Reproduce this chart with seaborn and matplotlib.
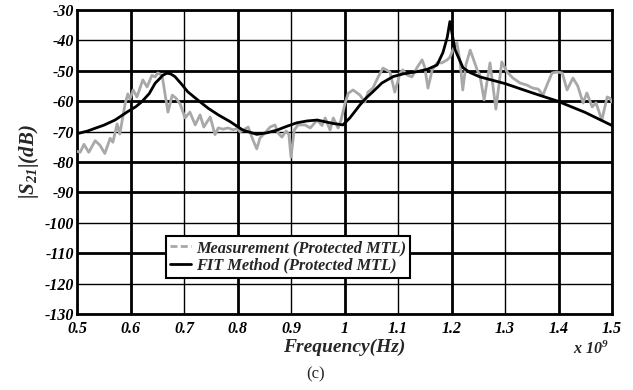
import matplotlib
matplotlib.use("Agg")
import matplotlib.pyplot as plt
import seaborn as sns
import pandas as pd
from matplotlib.lines import Line2D
from matplotlib.font_manager import FontProperties

# ---- data (frequency in GHz, |S21| in dB) ----
meas_freq = [0.500, 0.506, 0.513, 0.522, 0.534, 0.543, 0.552, 0.562, 0.567, 0.575,
             0.580, 0.590, 0.595, 0.599, 0.605, 0.612, 0.623, 0.631, 0.640, 0.646,
             0.651, 0.659, 0.664, 0.670, 0.678, 0.685, 0.693, 0.702, 0.711, 0.721,
             0.730, 0.737, 0.749, 0.758, 0.764, 0.773, 0.782, 0.792, 0.799, 0.805,
             0.820, 0.829, 0.836, 0.842, 0.851, 0.861, 0.870, 0.876, 0.883, 0.891,
             0.896, 0.900, 0.906, 0.913, 0.926, 0.936, 0.949, 0.958, 0.964, 0.973,
             0.979, 0.988, 0.993, 1.001, 1.007, 1.016, 1.029, 1.038, 1.044, 1.053,
             1.063, 1.072, 1.085, 1.094, 1.104, 1.109, 1.117, 1.126, 1.136, 1.145,
             1.150, 1.156, 1.164, 1.173, 1.182, 1.192, 1.197, 1.203, 1.210, 1.216,
             1.221, 1.227, 1.235, 1.248, 1.253, 1.261, 1.272, 1.283, 1.294, 1.304,
             1.315, 1.328, 1.341, 1.352, 1.362, 1.371, 1.380, 1.388, 1.397, 1.407,
             1.416, 1.427, 1.436, 1.446, 1.453, 1.463, 1.470, 1.481, 1.491, 1.496,
             1.500]
meas_db = [-76.5, -76.8, -74.2, -76.8, -73.0, -74.5, -77.2, -72.2, -73.5, -67.5,
           -70.8, -60.8, -57.6, -59.3, -56.3, -58.6, -53.0, -55.3, -51.5, -52.0,
           -50.7, -51.5, -57.0, -63.6, -58.0, -59.0, -61.0, -65.5, -63.6, -67.8,
           -64.5, -68.5, -65.2, -71.0, -68.8, -69.2, -68.8, -69.4, -69.0, -70.1,
           -68.5, -72.8, -75.7, -72.1, -70.5, -68.5, -67.8, -70.5, -71.8, -69.8,
           -71.0, -78.4, -69.5, -67.8, -67.8, -68.8, -66.2, -68.0, -65.5, -69.5,
           -65.5, -68.8, -66.5, -60.7, -57.4, -56.3, -58.0, -60.3, -57.0, -55.7,
           -52.0, -49.1, -50.4, -57.0, -50.7, -49.7, -51.4, -52.0, -48.8, -46.4,
           -48.8, -55.7, -49.7, -47.4, -47.4, -46.4, -45.5, -43.0, -40.7, -47.0,
           -56.3, -48.0, -43.2, -49.7, -51.4, -59.6, -47.4, -62.6, -47.1, -50.4,
           -52.4, -54.0, -54.7, -55.7, -56.0, -58.0, -54.0, -50.7, -50.4, -50.7,
           -56.3, -52.4, -55.0, -60.6, -57.3, -61.9, -60.5, -66.2, -58.6, -59.0,
           -60.3]

fit_freq = [0.500, 0.520, 0.534, 0.550, 0.571, 0.595, 0.610, 0.621, 0.635, 0.646,
            0.655, 0.660, 0.668, 0.675, 0.683, 0.695, 0.707, 0.725, 0.745, 0.765,
            0.786, 0.810, 0.836, 0.855, 0.874, 0.890, 0.911, 0.930, 0.949, 0.978,
            0.997, 1.010, 1.029, 1.040, 1.053, 1.070, 1.091, 1.110, 1.135, 1.155,
            1.173, 1.184, 1.192, 1.197, 1.2065, 1.2215, 1.235, 1.253, 1.300, 1.350,
            1.397, 1.450, 1.500]
fit_db = [-70.7, -69.8, -68.9, -67.9, -66.2, -63.4, -61.8, -60.2, -57.5, -54.1,
          -52.5, -51.5, -50.8, -51.0, -51.9, -54.3, -56.9, -59.5, -62.3, -64.6,
          -66.7, -69.5, -70.9, -70.4, -69.5, -68.4, -67.1, -66.5, -66.2, -67.3,
          -67.8, -65.5, -61.2, -59.0, -56.9, -54.0, -51.9, -51.0, -50.3, -49.5,
          -48.1, -44.0, -39.0, -33.8, -43.0, -49.0, -50.6, -52.0, -54.2, -57.2,
          -59.9, -63.7, -68.0]

x_ticks = [0.5, 0.6, 0.7, 0.8, 0.9, 1.0, 1.1, 1.2, 1.3, 1.4, 1.5]
x_tick_labels = ["0.5", "0.6", "0.7", "0.8", "0.9", "1", "1.1", "1.2", "1.3", "1.4", "1.5"]
y_ticks = [-130, -120, -110, -100, -90, -80, -70, -60, -50, -40, -30]

labels = ["Measurement (Protected MTL)", "FIT Method (Protected MTL)"]

# ---- style ----
sns.set_style("white")
plt.rcParams["font.family"] = ["Liberation Serif", "DejaVu Serif"]
plt.rcParams["axes.unicode_minus"] = False
plt.rcParams["mathtext.fontset"] = "custom"
plt.rcParams["mathtext.rm"] = "Liberation Serif:bold:italic"
plt.rcParams["mathtext.it"] = "Liberation Serif:bold:italic"
plt.rcParams["mathtext.bf"] = "Liberation Serif:bold:italic"

fig = plt.figure(figsize=(6.33, 3.90), dpi=100)
ax = fig.add_axes([77 / 633, 1 - 314 / 390, 535 / 633, 304 / 390])

meas_df = pd.DataFrame({"f": meas_freq, "db": meas_db})
fit_df = pd.DataFrame({"f": fit_freq, "db": fit_db})

sns.lineplot(data=meas_df, x="f", y="db", ax=ax, color="#a8a8a8", lw=2.0,
             estimator=None, sort=False, zorder=3)
sns.lineplot(data=fit_df, x="f", y="db", ax=ax, color="black", lw=2.0,
             estimator=None, sort=False, zorder=4)

ax.set_xlim(0.5, 1.5)
ax.set_ylim(-130, -30)
ax.set_xticks(x_ticks)
ax.set_xticklabels(x_tick_labels)
ax.set_yticks(y_ticks)

tick_fp = FontProperties(family="Liberation Serif", weight="bold", style="italic", size=11.5)
for lab in ax.get_xticklabels() + ax.get_yticklabels():
    lab.set_fontproperties(tick_fp)
ax.tick_params(axis="both", direction="in", length=3, width=1, pad=2, colors="black")
ax.tick_params(axis="x", pad=5)

ax.grid(True, color="black", lw=1.0)
ax.set_axisbelow(True)
thick_x = [0.6, 0.8, 1.0, 1.2, 1.4]
for val, gl in zip(x_ticks, ax.get_xgridlines()):
    gl.set_linewidth(2.0 if any(abs(val - t) < 1e-9 for t in thick_x) else 1.0)
thick_y = [-50, -60, -80, -90, -110]
for val, gl in zip(y_ticks, ax.get_ygridlines()):
    gl.set_linewidth(2.0 if val in thick_y else 1.0)

for sp in ax.spines.values():
    sp.set_visible(True)
    sp.set_color("black")
    sp.set_linewidth(2.0)

ax.set_xlabel("Frequency(Hz)", fontsize=14, fontweight="bold", style="italic", labelpad=1)
ax.set_ylabel(r"$|S_{21}|$(dB)", fontsize=15, fontweight="bold", style="italic", labelpad=3)

handles = [Line2D([], [], color="#a8a8a8", lw=2.0, ls=(0, (2.5, 1.2))),
           Line2D([], [], color="black", lw=2.0)]
leg = ax.legend(handles, labels, loc="upper left", bbox_to_anchor=(0.166, 0.257),
                frameon=True, fancybox=False, edgecolor="black", framealpha=1,
                handlelength=1.3, handletextpad=0.3, borderpad=0.25, labelspacing=0.1,
                borderaxespad=0,
                prop=FontProperties(family="Liberation Serif", weight="bold",
                                    style="italic", size=11.8))
leg.get_frame().set_linewidth(1.5)

fig.text(591 / 633, 1 - 349 / 390, r"x 10$^9$", ha="center", va="center",
         fontsize=11.5, fontweight="bold", style="italic")
fig.text(316 / 633, 1 - 374 / 390, "(c)", ha="center", va="center", fontsize=12)

fig.savefig("out.png", dpi=100)
